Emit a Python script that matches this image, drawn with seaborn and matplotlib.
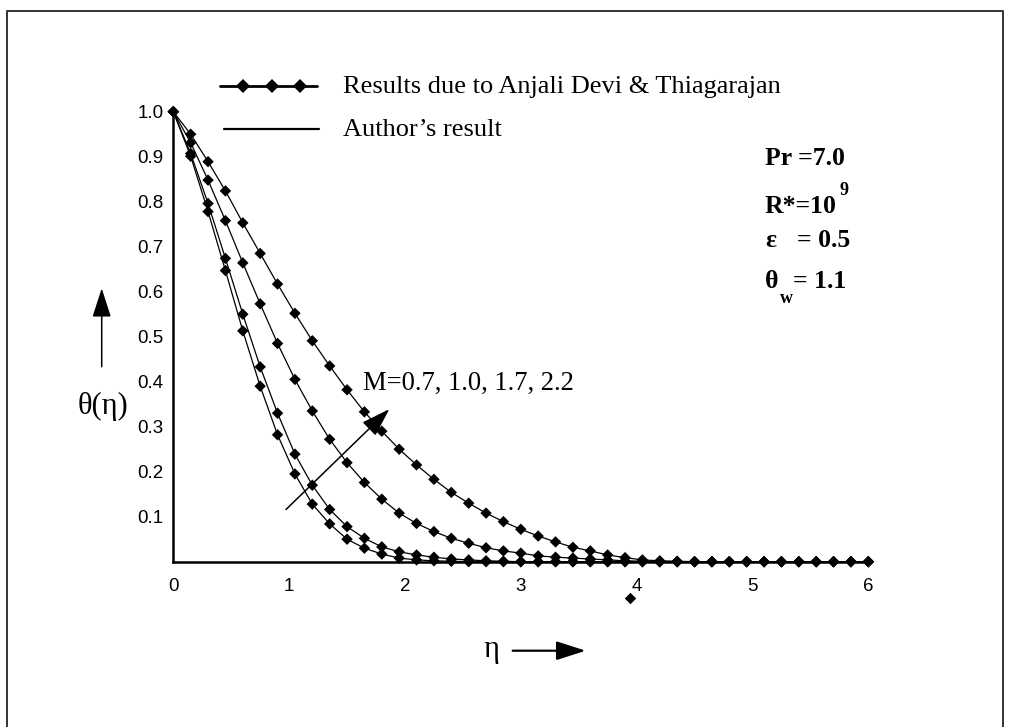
import matplotlib
matplotlib.use("Agg")
import matplotlib.pyplot as plt
import seaborn as sns
import pandas as pd
from matplotlib.lines import Line2D
from matplotlib.patches import FancyArrowPatch
from matplotlib.ticker import MultipleLocator

# similarity variable eta (grid of the tabulated solution)
eta = [0.0, 0.15, 0.3, 0.45, 0.6, 0.75, 0.9, 1.05, 1.2, 1.35,
       1.5, 1.65, 1.8, 1.95, 2.1, 2.25, 2.4, 2.55, 2.7, 2.85,
       3.0, 3.15, 3.3, 3.45, 3.6, 3.75, 3.9, 4.05, 4.2, 4.35,
       4.5, 4.65, 4.8, 4.95, 5.1, 5.25, 5.4, 5.55, 5.7, 5.85, 6.0]

# temperature profiles theta(eta) for each magnetic parameter M
theta_M07 = [1.0, 0.901, 0.778, 0.647, 0.513, 0.390, 0.282, 0.195, 0.128, 0.084,
             0.050, 0.030, 0.017, 0.008, 0.004, 0.002, 0.001, 0.0, 0.0, 0.0,
             0.0, 0.0, 0.0, 0.0, 0.0, 0.0, 0.0, 0.0, 0.0, 0.0,
             0.0, 0.0, 0.0, 0.0, 0.0, 0.0, 0.0, 0.0, 0.0, 0.0, 0.0]
theta_M10 = [1.0, 0.907, 0.796, 0.674, 0.550, 0.433, 0.330, 0.239, 0.170, 0.116,
             0.078, 0.052, 0.033, 0.022, 0.015, 0.010, 0.006, 0.004, 0.002, 0.001,
             0.0, 0.0, 0.0, 0.0, 0.0, 0.0, 0.0, 0.0, 0.0, 0.0,
             0.0, 0.0, 0.0, 0.0, 0.0, 0.0, 0.0, 0.0, 0.0, 0.0, 0.0]
theta_M17 = [1.0, 0.931, 0.848, 0.758, 0.664, 0.573, 0.485, 0.405, 0.335, 0.272,
             0.220, 0.176, 0.139, 0.108, 0.085, 0.067, 0.052, 0.041, 0.031, 0.024,
             0.019, 0.013, 0.010, 0.008, 0.006, 0.004, 0.002, 0.001, 0.0, 0.0,
             0.0, 0.0, 0.0, 0.0, 0.0, 0.0, 0.0, 0.0, 0.0, 0.0, 0.0]
theta_M22 = [1.0, 0.950, 0.889, 0.824, 0.753, 0.685, 0.617, 0.552, 0.491, 0.435,
             0.382, 0.333, 0.290, 0.250, 0.215, 0.183, 0.154, 0.130, 0.108, 0.089,
             0.072, 0.057, 0.044, 0.032, 0.024, 0.015, 0.009, 0.004, 0.002, 0.001,
             0.0, 0.0, 0.0, 0.0, 0.0, 0.0, 0.0, 0.0, 0.0, 0.0, 0.0]
M_values = ["0.7", "1.0", "1.7", "2.2"]

# isolated comparison point printed below the axis
extra_eta = [3.94]
extra_theta = [-0.08]

x_ticks = [0, 1, 2, 3, 4, 5, 6]
y_ticks = [0.1, 0.2, 0.3, 0.4, 0.5, 0.6, 0.7, 0.8, 0.9, 1.0]
y_tick_labels = ["0.1", "0.2", "0.3", "0.4", "0.5", "0.6", "0.7", "0.8", "0.9", "1.0"]

frames = []
for m, th in zip(M_values, [theta_M07, theta_M10, theta_M17, theta_M22]):
    frames.append(pd.DataFrame({"eta": eta, "theta": th, "M": m}))
df = pd.concat(frames, ignore_index=True)

sns.set_theme(style="white")
plt.rcParams["font.family"] = ["Liberation Serif", "DejaVu Serif"]
plt.rcParams["text.color"] = "black"
plt.rcParams["xtick.color"] = "black"
plt.rcParams["ytick.color"] = "black"
plt.rcParams["axes.edgecolor"] = "black"

W, H = 1011, 727
fig = plt.figure(figsize=(W / 100, H / 100), dpi=100)
fig.patch.set_facecolor("white")


def fp(x, y):
    """pixel position (from top-left) -> figure fraction"""
    return x / W, 1 - y / H


ax = fig.add_axes([173.3 / W, (H - 561.7) / H, 695 / W, 450 / H])
ax.set_facecolor("white")

black4 = ["black"] * 4
sns.lineplot(data=df, x="eta", y="theta", hue="M", palette=black4,
             linewidth=0.9, legend=False, ax=ax, sort=False)
sns.scatterplot(data=df, x="eta", y="theta", hue="M", palette=black4,
                marker="D", s=34, edgecolor="black", linewidth=0,
                legend=False, ax=ax, clip_on=False, zorder=5)
ax.scatter(extra_eta, extra_theta, marker="D", s=34, color="black",
           linewidth=0, clip_on=False, zorder=5)

ax.set_xlim(0, 6)
ax.set_ylim(0, 1.0)
for side in ["top", "right"]:
    ax.spines[side].set_visible(False)
for side in ["left", "bottom"]:
    ax.spines[side].set_linewidth(1.8)
    ax.spines[side].set_color("black")

ax.set_xticks(x_ticks)
ax.set_xticklabels([str(t) for t in x_ticks])
ax.set_yticks(y_ticks)
ax.set_yticklabels(y_tick_labels)
ax.xaxis.set_minor_locator(MultipleLocator(0.5))
ax.yaxis.set_minor_locator(MultipleLocator(0.05))
ax.tick_params(which="both", direction="in", color="black", width=1.0)
ax.tick_params(which="major", length=6)
ax.tick_params(which="minor", length=4)
ax.tick_params(axis="y", which="major", pad=7)
ax.tick_params(axis="x", which="major", pad=12)
for lab in ax.get_xticklabels() + ax.get_yticklabels():
    lab.set_fontfamily(["Liberation Sans", "DejaVu Sans"])
    lab.set_fontsize(13.5)
    lab.set_color("black")
ax.set_xlabel("")
ax.set_ylabel("")

# curve-family arrow (increasing M)
ax.annotate("", xy=(1.865, 0.339), xytext=(0.973, 0.116),
            arrowprops=dict(arrowstyle="-|>,head_length=18,head_width=5.8",
                            mutation_scale=1, color="black", lw=1.1,
                            shrinkA=0, shrinkB=0))
fig.text(*fp(363, 390), "M=0.7, 1.0, 1.7, 2.2", fontsize=19.2, va="baseline", ha="left")

# legend drawn by hand
fig.add_artist(Line2D([fp(220, 0)[0], fp(317, 0)[0]], [fp(0, 86)[1]] * 2,
                      transform=fig.transFigure, color="black", lw=2.0))
fig.add_artist(Line2D([fp(x, 0)[0] for x in (243, 272, 300)], [fp(0, 86)[1]] * 3,
                      transform=fig.transFigure, color="black", lw=0,
                      marker="D", markersize=7.5, markeredgewidth=0))
fig.add_artist(Line2D([fp(224, 0)[0], fp(319, 0)[0]], [fp(0, 129)[1]] * 2,
                      transform=fig.transFigure, color="black", lw=1.6))
fig.text(*fp(343, 93), "Results due to Anjali Devi & Thiagarajan", fontsize=19,
         va="baseline", ha="left")
fig.text(*fp(343, 136), "Author\u2019s result", fontsize=19, va="baseline", ha="left")

# parameter block
bold = dict(fontsize=18.5, fontweight="bold", va="baseline", ha="left")
fig.text(*fp(765, 165), "Pr =7.0", **bold)
fig.text(*fp(765, 213), "R*=10", **bold)
fig.text(*fp(839, 195), "9", fontsize=13, fontweight="bold", va="baseline", ha="left")
fig.text(*fp(765, 247), "\u03b5", **bold)
fig.text(*fp(797, 247), "= 0.5", **bold)
fig.text(*fp(765, 288), "\u03b8", **bold)
fig.text(*fp(780, 303), "w", fontsize=13, fontweight="bold", va="baseline", ha="left")
fig.text(*fp(793, 288), "= 1.1", **bold)

# axis titles with direction arrows
fig.text(*fp(103, 406), "\u03b8(\u03b7)", fontsize=22, va="center", ha="center")
fig.add_artist(FancyArrowPatch(fp(101.7, 366.7), fp(101.7, 288.3),
                               transform=fig.transFigure, mutation_scale=1,
                               arrowstyle="-|>,head_length=18,head_width=5.8",
                               color="black", lw=1.1, shrinkA=0, shrinkB=0))
fig.text(*fp(491, 650), "\u03b7", fontsize=22, va="center", ha="center")
fig.add_artist(FancyArrowPatch(fp(512.7, 650.7), fp(585.7, 650.7),
                               transform=fig.transFigure, mutation_scale=1,
                               arrowstyle="-|>,head_length=18,head_width=5.8",
                               color="black", lw=1.6, shrinkA=0, shrinkB=0))

# outer frame
frame_x = [fp(7, 0)[0], fp(7, 0)[0], fp(1003, 0)[0], fp(1003, 0)[0]]
frame_y = [fp(0, 727)[1], fp(0, 11)[1], fp(0, 11)[1], fp(0, 727)[1]]
fig.add_artist(Line2D(frame_x, frame_y, transform=fig.transFigure,
                      color="#333333", lw=1.4))

fig.savefig("out.png", dpi=100, facecolor="white")
